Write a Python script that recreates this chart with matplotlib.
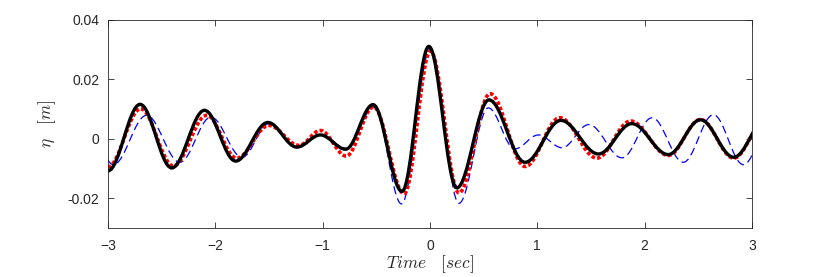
import matplotlib
matplotlib.use("Agg")
import matplotlib.pyplot as plt
from matplotlib.path import Path
from matplotlib.patches import PathPatch

# crests and troughs (time in s, elevation in m)
# the outermost entries sit just past the axis limits and get clipped
t_black = [-3.0, -2.70, -2.405, -2.10, -1.81, -1.51, -1.24, -1.02, -0.785,
           -0.53, -0.26, -0.01, 0.25, 0.55, 0.886, 1.22, 1.57, 1.88, 2.22,
           2.52, 2.83, 3.13]
eta_black = [-0.0108, 0.0116, -0.0098, 0.0096, -0.0075, 0.0055, -0.0028, 0.0013, -0.0035,
             0.0115, -0.0177, 0.0311, -0.0165, 0.0131, -0.0079, 0.0062, -0.0051, 0.0051, -0.0053,
             0.0064, -0.0062, 0.0065]

t_red = [-3.0, -2.695, -2.39, -2.08, -1.80, -1.50, -1.22, -1.02, -0.78,
         -0.525, -0.24, 0.005, 0.27, 0.56, 0.886, 1.21, 1.555, 1.87, 2.22,
         2.52, 2.83, 3.13]
eta_red = [-0.0095, 0.0101, -0.0091, 0.0079, -0.0065, 0.0045, -0.0022, 0.0028, -0.0058,
           0.0107, -0.0185, 0.0295, -0.0182, 0.0152, -0.0093, 0.0071, -0.0065, 0.0060, -0.0056,
           0.0065, -0.0065, 0.0066]

t_blue = [-3.20, -2.95, -2.64, -2.33, -2.04, -1.75, -1.50, -1.24, -1.02, -0.78,
          -0.52, -0.265, 0.005, 0.27, 0.544, 0.79, 1.01, 1.23, 1.48, 1.79,
          2.07, 2.36, 2.64, 2.92, 3.20]
eta_blue = [0.0080, -0.0087, 0.0079, -0.0079, 0.0073, -0.0062, 0.0051, -0.0028, 0.0015, -0.0032,
            0.0107, -0.0219, 0.0303, -0.0217, 0.0104, -0.0034, 0.0013, -0.0030, 0.0048, -0.0064,
            0.0071, -0.0079, 0.0081, -0.0087, 0.0080]

x_ticks = [-3, -2, -1, 0, 1, 2, 3]
y_ticks = [-0.02, 0, 0.02, 0.04]
y_ticklabels = ['-0.02', '0', '0.02', '0.04']


def wave_path(t, eta, k=0.36):
    # one cubic segment per half wave, flat at every crest and trough
    verts = [(t[0], eta[0])]
    codes = [Path.MOVETO]
    for i in range(len(t) - 1):
        dt = t[i + 1] - t[i]
        verts += [(t[i] + k * dt, eta[i]), (t[i + 1] - k * dt, eta[i + 1]),
                  (t[i + 1], eta[i + 1])]
        codes += [Path.CURVE4] * 3
    return Path(verts, codes)


plt.rcParams['font.family'] = ['Liberation Sans', 'DejaVu Sans']
plt.rcParams['mathtext.fontset'] = 'cm'

fig = plt.figure(figsize=(8.3, 2.77), dpi=100)
ax = fig.add_axes([0.130, 0.177, 0.776, 0.751])

ax.add_patch(PathPatch(wave_path(t_blue, eta_blue), fill=False, edgecolor='#0000ff',
                       lw=0.9, linestyle=(0, (6.5, 3.5))))
ax.add_patch(PathPatch(wave_path(t_red, eta_red), fill=False, edgecolor='#ff0000',
                       lw=2.6, linestyle=(0, (1, 0.6)), capstyle='butt'))
ax.add_patch(PathPatch(wave_path(t_black, eta_black), fill=False, edgecolor='black',
                       lw=2.4, joinstyle='round'))

ax.set_xlim(-3, 3)
ax.set_ylim(-0.03, 0.04)
ax.set_xticks(x_ticks)
ax.set_yticks(y_ticks)
ax.set_yticklabels(y_ticklabels)
ax.tick_params(direction='in', length=4, width=0.6, colors='#262626',
               labelsize=10, top=True, right=True)
ax.tick_params(axis='x', pad=8)
ax.tick_params(axis='y', pad=6)
for s in ax.spines.values():
    s.set_color('#262626')
    s.set_linewidth(0.6)

ax.set_xlabel(r'$Time\quad[sec]$', fontsize=12.5, color='#262626', labelpad=0)
ax.set_ylabel(r'$\eta\quad[m]$', fontsize=12.5, color='#262626', labelpad=7)

fig.savefig('out.png', dpi=100)
